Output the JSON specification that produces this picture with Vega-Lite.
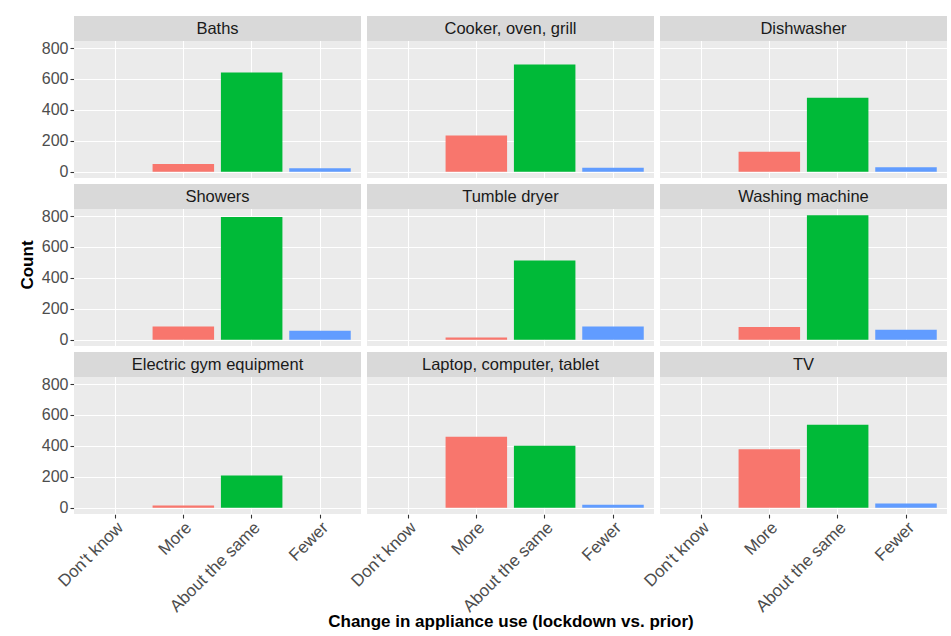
{
  "$schema": "https://vega.github.io/schema/vega-lite/v6.json",
  "padding": {"left": 19, "top": 16, "right": 0, "bottom": 0},
  "background": "#FFFFFF",
  "data": {"values": [
      {"appliance": "Baths", "change": "More", "count": 50},
      {"appliance": "Baths", "change": "About the same", "count": 642},
      {"appliance": "Baths", "change": "Fewer", "count": 22},
      {"appliance": "Cooker, oven, grill", "change": "More", "count": 235},
      {"appliance": "Cooker, oven, grill", "change": "About the same", "count": 694},
      {"appliance": "Cooker, oven, grill", "change": "Fewer", "count": 26},
      {"appliance": "Dishwasher", "change": "More", "count": 129},
      {"appliance": "Dishwasher", "change": "About the same", "count": 478},
      {"appliance": "Dishwasher", "change": "Fewer", "count": 30},
      {"appliance": "Showers", "change": "More", "count": 86},
      {"appliance": "Showers", "change": "About the same", "count": 793},
      {"appliance": "Showers", "change": "Fewer", "count": 58},
      {"appliance": "Tumble dryer", "change": "More", "count": 15},
      {"appliance": "Tumble dryer", "change": "About the same", "count": 513},
      {"appliance": "Tumble dryer", "change": "Fewer", "count": 86},
      {"appliance": "Washing machine", "change": "More", "count": 82},
      {"appliance": "Washing machine", "change": "About the same", "count": 805},
      {"appliance": "Washing machine", "change": "Fewer", "count": 65},
      {"appliance": "Electric gym equipment", "change": "More", "count": 15},
      {"appliance": "Electric gym equipment", "change": "About the same", "count": 209},
      {"appliance": "Laptop, computer, tablet", "change": "More", "count": 459},
      {"appliance": "Laptop, computer, tablet", "change": "About the same", "count": 401},
      {"appliance": "Laptop, computer, tablet", "change": "Fewer", "count": 19},
      {"appliance": "TV", "change": "More", "count": 379},
      {"appliance": "TV", "change": "About the same", "count": 537},
      {"appliance": "TV", "change": "Fewer", "count": 28}
  ]},
  "transform": [
    {"calculate": "indexof(['Baths', 'Cooker, oven, grill', 'Dishwasher', 'Showers', 'Tumble dryer', 'Washing machine', 'Electric gym equipment', 'Laptop, computer, tablet', 'TV'], datum.appliance)", "as": "panel"},
    {"calculate": "floor(datum.panel / 3)", "as": "panel_row"},
    {"calculate": "datum.panel % 3", "as": "panel_col"}
  ],
  "facet": {
    "row": {"field": "panel_row", "type": "ordinal", "title": "Count",
            "header": {"labels": false, "labelPadding": 0, "titleOrient": "left", "titlePadding": -6, "titleFontSize": 17, "titleFontWeight": "bold", "titleColor": "#000000", "titleFont": "Liberation Sans"}},
    "column": {"field": "panel_col", "type": "ordinal", "title": "Change in appliance use (lockdown vs. prior)",
            "header": {"labels": false, "labelPadding": 0, "titleOrient": "bottom", "titlePadding": -11, "titleFontSize": 17, "titleFontWeight": "bold", "titleColor": "#000000", "titleFont": "Liberation Sans"}}
  },
  "spacing": {"row": 6, "column": 6},
  "spec": {
    "width": 287,
    "height": 162,
    "layer": [
      {"mark": {"type": "bar"},
       "encoding": {
         "x": {"field": "change", "type": "nominal", "scale": {"domain": ["Don't know", "More", "About the same", "Fewer"], "paddingInner": 0.1, "paddingOuter": 0.15},
               "axis": {"title": null, "labelAngle": -45, "labelAlign": "right", "labelBaseline": "top", "labelFontSize": 17, "labelPadding": 1, "grid": true, "gridWidth": 1.1, "bandPosition": 0.5}},
         "y": {"field": "count", "type": "quantitative", "scale": {"domain": [-40.25, 1006.9], "nice": false},
               "axis": {"title": null, "values": [0, 100, 200, 300, 400, 500, 600, 700, 800],
                        "labelExpr": "datum.value % 200 === 0 ? datum.label : ''",
                        "tickOpacity": {"condition": {"test": "datum.value % 200 === 0", "value": 1}, "value": 0},
                        "gridWidth": {"condition": {"test": "datum.value % 200 === 0", "value": 1.1}, "value": 0.55}}},
         "color": {"field": "change", "type": "nominal", "scale": {"domain": ["More", "About the same", "Fewer"], "range": ["#F8766D", "#00BA38", "#619CFF"]}, "legend": null}
       }},
      {"transform": [{"aggregate": [{"op": "count", "as": "n"}], "groupby": ["appliance"]}],
       "mark": {"type": "rect", "color": "#D9D9D9", "strokeWidth": 0},
       "encoding": {
         "y": {"datum": 845.25, "type": "quantitative", "scale": {"domain": [-40.25, 1006.9], "nice": false}},
         "y2": {"datum": 1006.9}
       }},
      {"transform": [{"aggregate": [{"op": "count", "as": "n"}], "groupby": ["appliance"]}],
       "mark": {"type": "text", "fontSize": 16.5, "color": "#1A1A1A"},
       "encoding": {
         "text": {"field": "appliance"},
         "y": {"datum": 926, "type": "quantitative", "scale": {"domain": [-40.25, 1006.9], "nice": false}}
       }}
    ]
  },
  "config": {
    "font": "Liberation Sans",
    "view": {"fill": "#EBEBEB", "stroke": null},
    "axis": {"domain": false, "gridColor": "#FFFFFF", "gridOpacity": 1, "labelColor": "#4D4D4D", "labelFontSize": 16, "labelFont": "Liberation Sans",
             "tickColor": "#333333", "tickSize": 4, "tickWidth": 1.1, "labelPadding": 2,
             "titleFontSize": 17, "titleFontWeight": "bold", "titleColor": "#000000", "titleFont": "Liberation Sans"}
  }
}
